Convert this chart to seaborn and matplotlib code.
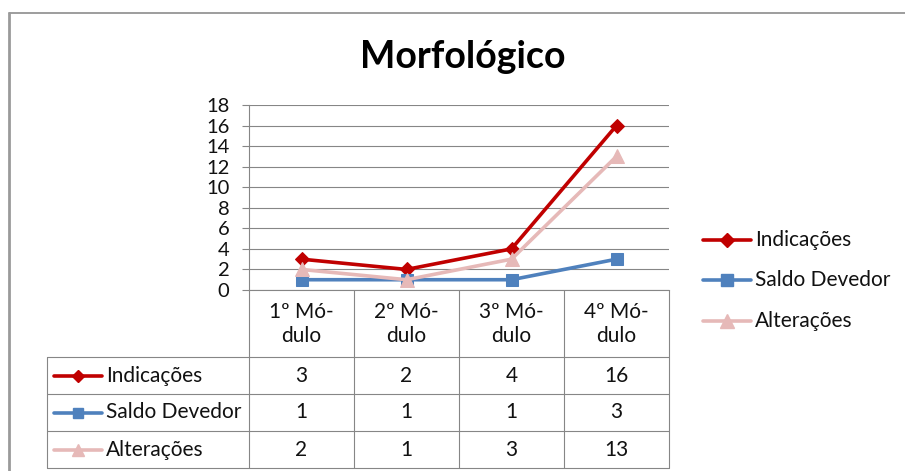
import matplotlib.pyplot as plt
import pandas as pd
import seaborn as sns
from matplotlib.lines import Line2D

# data
modulos = ['1º Mó-\ndulo', '2º Mó-\ndulo', '3º Mó-\ndulo', '4º Mó-\ndulo']
series = ['Indicações', 'Saldo Devedor', 'Alterações']
indicacoes = [3, 2, 4, 16]
saldo_devedor = [1, 1, 1, 3]
alteracoes = [2, 1, 3, 13]
yticks = [0, 2, 4, 6, 8, 10, 12, 14, 16, 18]

cores = {'Indicações': '#C00000', 'Saldo Devedor': '#4F81BD', 'Alterações': '#E6B9B8'}
marcadores = {'Indicações': 'D', 'Saldo Devedor': 's', 'Alterações': '^'}
tamanhos = {'Indicações': 7, 'Saldo Devedor': 9, 'Alterações': 9.5}

sns.set_style('white')
plt.rcParams['font.family'] = ['Lato', 'DejaVu Sans']
plt.rcParams['text.color'] = '#111111'
plt.rcParams['ytick.labelcolor'] = '#111111'

valores = [indicacoes, saldo_devedor, alteracoes]
df = pd.DataFrame({
    'pos': list(range(len(modulos))) * len(series),
    'valor': indicacoes + saldo_devedor + alteracoes,
    'serie': [s for s in series for _ in modulos],
})

W, H = 905, 471
fig = plt.figure(figsize=(W / 100, H / 100), dpi=100)

# overlay in pixel coords for frame, table and legend
ov = fig.add_axes([0, 0, 1, 1])
ov.set_xlim(0, W)
ov.set_ylim(H, 0)
ov.axis('off')
ov.plot([8.5, W], [13, 13], color='#8C8C8C', lw=1.2)
ov.plot([8.5, 8.5], [13, H], color='#9A9A9A', lw=2)

x0, x1, y0, y1 = 249, 669, 105, 290
ax = fig.add_axes([x0 / W, 1 - y1 / H, (x1 - x0) / W, (y1 - y0) / H])
for s in series:
    sub = df[df['serie'] == s]
    sns.lineplot(data=sub, x='pos', y='valor', ax=ax, color=cores[s], lw=2.6,
                 marker=marcadores[s], markersize=tamanhos[s], markeredgecolor=cores[s],
                 legend=False, zorder=3)

ax.set_xlim(-0.5, len(modulos) - 0.5)
ax.set_ylim(0, 18)
ax.set_yticks(yticks)
ax.set_xticks([])
ax.set_xlabel('')
ax.set_ylabel('')
ax.yaxis.grid(True, color='#868686', lw=0.8)
for sp in ['top', 'right']:
    ax.spines[sp].set_visible(False)
for sp in ['left', 'bottom']:
    ax.spines[sp].set_color('#868686')
    ax.spines[sp].set_linewidth(0.8)
ax.tick_params(axis='y', length=5, color='#868686', labelsize=14.5, pad=9, direction='out', left=True)

fig.suptitle('Morfológico', x=463 / W, y=1 - 57 / H, va='center', fontsize=27, fontweight='bold',
             color='black')

# data table below the plot
tl = 47
col_w = (x1 - x0) / len(modulos)
linhas = [290, 357, 394, 431, 468]
cinza = '#868686'
for i in range(len(modulos) + 1):
    xx = x0 + i * col_w
    ov.plot([xx, xx], [290, 468], color=cinza, lw=0.8)
ov.plot([tl, tl], [357, 468], color=cinza, lw=0.8)
for yy in linhas[1:]:
    ov.plot([tl, x1], [yy, yy], color=cinza, lw=0.8)
for i, m in enumerate(modulos):
    ov.text(x0 + (i + 0.5) * col_w, 324, m, ha='center', va='center', fontsize=15, linespacing=1.3)
for r, s in enumerate(series):
    yc = (linhas[r + 1] + linhas[r + 2]) / 2
    ov.add_line(Line2D([54, 78, 102], [yc, yc, yc], color=cores[s], lw=2.6, marker=marcadores[s],
                       markersize=tamanhos[s] * 0.85, markevery=[1], markeredgecolor=cores[s]))
    ov.text(106, yc, s, ha='left', va='center', fontsize=15)
    for i, v in enumerate(valores[r]):
        ov.text(x0 + (i + 0.5) * col_w, yc, str(v), ha='center', va='center', fontsize=15)

# legend on the right
for r, s in enumerate(series):
    yc = [240, 280, 321][r]
    ov.add_line(Line2D([703, 727, 751], [yc, yc, yc], color=cores[s], lw=2.6, marker=marcadores[s],
                       markersize=tamanhos[s], markevery=[1], markeredgecolor=cores[s]))
    ov.text(755, yc, s, ha='left', va='center', fontsize=15)

fig.savefig('out.png', dpi=100)
